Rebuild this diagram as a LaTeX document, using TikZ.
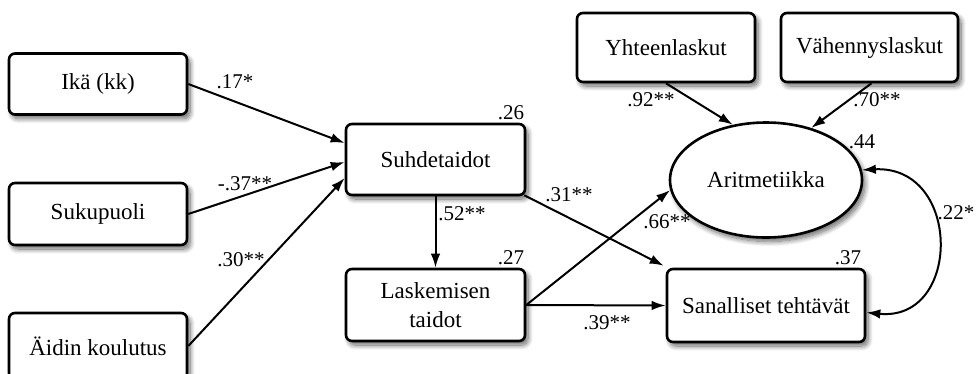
\documentclass[tikz,border=0pt]{standalone}
\usepackage{fontspec}
\setmainfont{Liberation Serif}
\usetikzlibrary{arrows.meta,shapes.geometric,shadows.blur}

\tikzset{
  shade/.style={blur shadow={shadow xshift=3pt,shadow yshift=-4pt,shadow opacity=60,shadow blur radius=5pt,shadow blur steps=10}},
  var/.style={draw,line width=2.6pt,rounded corners=6pt,fill=white,shade,
    align=center,inner sep=0pt,font=\fontsize{23}{29}\selectfont},
  latent/.style={ellipse,draw,line width=2.6pt,fill=white,shade,inner sep=0pt,
    font=\fontsize{23}{29}\selectfont},
  coef/.style={font=\fontsize{21}{23}\selectfont,inner sep=0pt},
  path/.style={line width=2pt,-{Latex[length=14pt,width=9.5pt]}},
  cov/.style={line width=2pt,{Latex[length=14pt,width=9.5pt]}-{Latex[length=14pt,width=9.5pt]}},
}

\begin{document}
\begin{tikzpicture}[x=1pt,y=-1pt]
\useasboundingbox (0,0) rectangle (980,373);

% observed and latent variables
\node[var,minimum width=178pt,minimum height=61pt] (ika) at (98,84) {Ikä (kk)};
\node[var,minimum width=178pt,minimum height=62pt] (suk) at (98,214) {Sukupuoli};
\node[var,minimum width=178pt,minimum height=66pt,text depth=0pt] (aid) at (98,346) {Äidin koulutus};
\node[var,minimum width=179pt,minimum height=71pt] (suh) at (435.5,159.5) {Suhdetaidot};
\node[var,minimum width=179pt,minimum height=72pt] (las) at (435.5,305) {Laskemisen\\taidot};
\node[var,minimum width=178pt,minimum height=69pt] (yht) at (666,47.5) {Yhteenlaskut};
\node[var,minimum width=177pt,minimum height=69pt] (vah) at (869.5,47.5) {Vähennyslaskut};
\node[latent,minimum width=192pt,minimum height=115pt] (ari) at (766,180) {Aritmetiikka};
\node[var,minimum width=198pt,minimum height=73pt] (san) at (766,305.5) {Sanalliset tehtävät};

% regression paths
\draw[path] (ika.east) -- ([yshift=16.5pt]suh.west);
\draw[path] (suk.east) -- ([yshift=-2.5pt]suh.west);
\draw[path] (aid.east) -- ([yshift=-18.5pt]suh.west);
\draw[path] (suh.south) -- (las.north);
\draw[path] ([shift={(-2pt,1pt)}]suh.south east) -- ([shift={(-2pt,2pt)}]san.north west);
\draw[path] (las.east) -- (ari.186);
\draw[path] (las.east) -- (san.west);
\draw[path] (yht.south) -- (ari.121);
\draw[path] ([xshift=2pt]vah.south) -- (ari.49);
\draw[cov] (ari.6) .. controls (962,165) and (962,322) .. ([yshift=-7pt]san.east);

% coefficients
\node[coef] (c1) at (235,82) {.17*};
\node[coef] (c2) at (245,184) {-.37**};
\node[coef] (c3) at (241,260) {.30**};
\node[coef] (c4) at (462,214) {.52**};
\node[coef] (c5) at (569,195) {.31**};
\node[coef] (c6) at (667,222) {.66**};
\node[coef] (c7) at (607,323) {.39**};
\node[coef] (c8) at (651,100) {.92**};
\node[coef] (c9) at (877,100) {.70**};
\node[coef] (c10) at (956,213) {.22*};

% explained variances
\node[coef] (r1) at (511,113) {.26};
\node[coef] (r2) at (511,258) {.27};
\node[coef] (r3) at (848,258) {.37};
\node[coef] (r4) at (862,142) {.44};
\end{tikzpicture}
\end{document}
